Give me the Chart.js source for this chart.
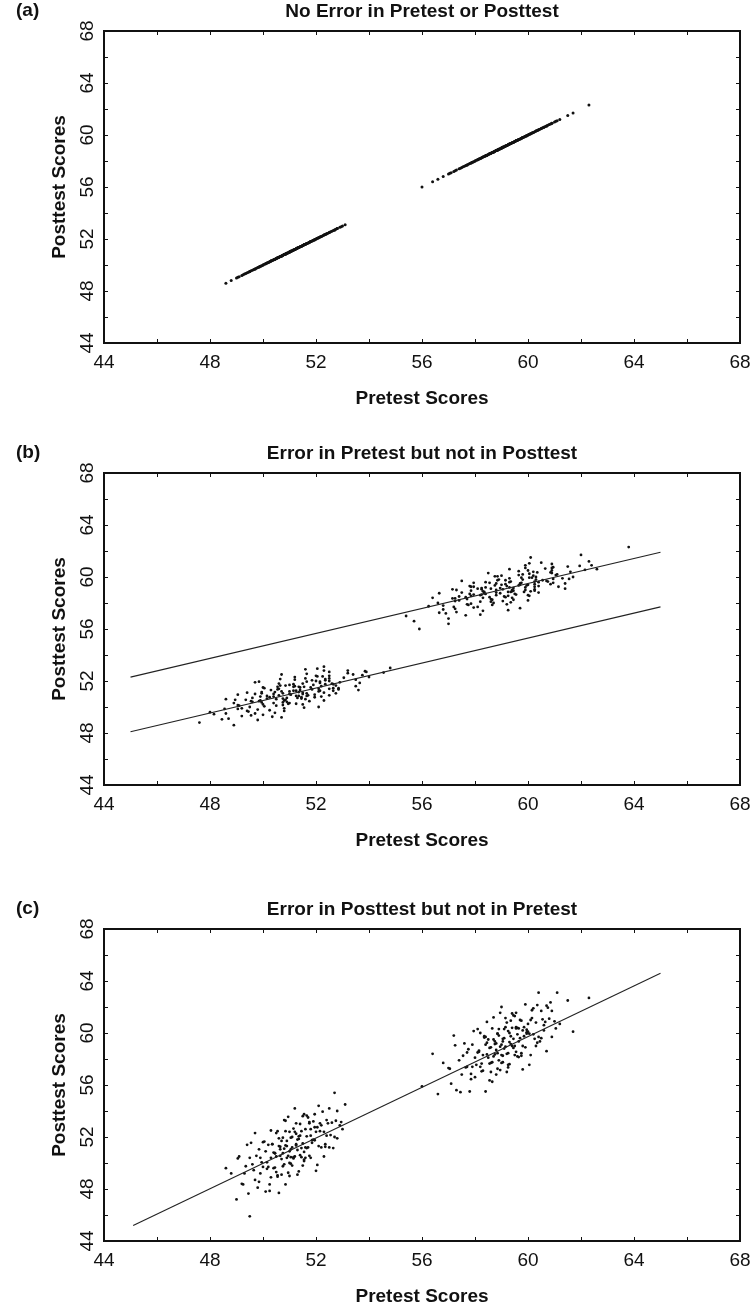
<!DOCTYPE html>
<html><head><meta charset="utf-8">
<script src="https://cdn.jsdelivr.net/npm/chart.js@4.4.1/dist/chart.umd.min.js"></script>
<style>
html,body{margin:0;padding:0;background:#fff;}
#wrap{position:relative;width:754px;height:1306px;overflow:hidden;background:#fff;}
canvas{position:absolute;left:0;}
</style></head><body>
<div id="wrap">
<canvas id="ca" width="754" height="442" style="top:0px"></canvas>
<canvas id="cb" width="754" height="442" style="top:442px"></canvas>
<canvas id="cc" width="754" height="408" style="top:898px"></canvas>
</div>
<script>
// ---------- DATA ----------
const panelLabels = ['(a)', '(b)', '(c)'];
const panelTitles = ['No Error in Pretest or Posttest', 'Error in Pretest but not in Posttest', 'Error in Posttest but not in Pretest'];
const xAxisTitle = 'Pretest Scores';
const yAxisTitle = 'Posttest Scores';
const axisTicks = [44, 48, 52, 56, 60, 64, 68];
const minorTicks = [44, 46, 48, 50, 52, 54, 56, 58, 60, 62, 64, 66, 68];

// true scores (no measurement error) - lower group
const trueScoresLow = [48.6,48.8,49.0,49.1,49.2,49.3,49.4,49.5,49.5,49.6,
49.7,49.7,49.8,49.9,49.9,50.0,50.0,50.1,50.1,50.2,
50.2,50.3,50.3,50.3,50.4,50.4,50.5,50.5,50.5,50.6,
50.6,50.6,50.7,50.7,50.7,50.8,50.8,50.8,50.9,50.9,
50.9,51.0,51.0,51.0,51.0,51.1,51.1,51.1,51.2,51.2,
51.2,51.3,51.3,51.3,51.4,51.4,51.4,51.5,51.5,51.5,
51.6,51.6,51.6,51.7,51.7,51.8,51.8,51.8,51.9,51.9,
52.0,52.0,52.1,52.1,52.2,52.2,52.3,52.3,52.4,52.4,
52.5,52.5,52.6,52.7,52.7,52.8,52.8,52.9,53.0,53.1,
49.05,49.25,49.35,49.45,49.55,49.65,49.75,49.85,49.95,50.05,
50.15,50.25,50.35,50.45,50.45,50.55,50.55,50.65,50.65,50.75,
50.75,50.85,50.85,50.95,50.95,51.05,51.05,51.05,51.15,51.15,
51.25,51.25,51.35,51.35,51.45,51.45,51.55,51.55,51.65,51.65,
51.75,51.75,51.85,51.95,52.05,52.15,52.25,52.35,52.45,52.55,
50.35,50.55,50.75,50.95,51.15,51.35,51.55,51.75,51.95,52.15,
50.25,50.65,50.85,51.05,51.25,51.45,51.65,51.85,52.05,52.65,
49.85,50.15,50.45,50.85,51.25,51.55,51.95,52.35,52.75,52.95];
// true scores - upper group
const trueScoresHigh = [56.0,56.4,56.6,56.8,57.0,57.1,57.2,57.3,57.4,57.5,
57.6,57.7,57.7,57.8,57.9,57.9,58.0,58.0,58.1,58.1,
58.2,58.2,58.3,58.3,58.4,58.4,58.4,58.5,58.5,58.6,
58.6,58.6,58.7,58.7,58.7,58.8,58.8,58.8,58.9,58.9,
58.9,59.0,59.0,59.0,59.0,59.1,59.1,59.1,59.2,59.2,
59.2,59.3,59.3,59.3,59.4,59.4,59.4,59.5,59.5,59.5,
59.6,59.6,59.6,59.7,59.7,59.8,59.8,59.8,59.9,59.9,
60.0,60.0,60.1,60.1,60.2,60.2,60.3,60.3,60.4,60.4,
60.5,60.5,60.6,60.6,60.7,60.7,60.8,60.9,60.9,61.0,
61.1,61.2,61.5,61.7,62.3,
57.05,57.25,57.45,57.55,57.65,57.75,57.85,57.95,58.05,58.15,
58.25,58.35,58.45,58.45,58.55,58.55,58.65,58.65,58.75,58.75,
58.85,58.85,58.95,58.95,59.05,59.05,59.05,59.15,59.15,59.25,
59.25,59.35,59.35,59.45,59.45,59.55,59.55,59.65,59.65,59.75,
59.75,59.85,59.95,60.05,60.15,60.25,60.35,60.45,60.55,60.65,
58.35,58.55,58.75,58.95,59.15,59.35,59.55,59.75,59.95,60.15,
58.25,58.65,58.85,59.05,59.25,59.45,59.65,59.85,60.05,60.75,
57.85,58.15,58.45,58.85,59.25,59.55,59.95,60.35,60.85,61.05];

// panel (b): pretest measured with error (posttest = true score)
const pretestErrLow = [48.9,47.6,49.8,48.7,50.7,49.2,50.0,48.6,49.7,48.0,
50.8,49.4,49.8,50.8,49.2,52.1,49.5,50.5,49.1,51.5,
50.0,51.0,48.9,50.4,50.9,49.6,52.3,49.9,50.8,48.6,
51.6,50.5,51.3,49.6,50.9,52.2,50.4,49.9,51.7,50.6,
52.5,49.7,51.0,51.5,50.4,52.3,49.4,51.5,51.0,52.1,
50.7,53.6,50.3,51.4,52.1,50.6,52.5,51.4,50.0,51.8,
52.2,51.2,53.5,51.0,51.9,50.6,52.6,51.5,52.9,49.7,
52.5,52.0,51.2,53.5,51.6,52.5,54.0,51.2,52.5,52.0,
53.4,50.7,53.2,52.5,53.9,52.3,53.2,51.6,54.8,52.3,
48.45,50.35,49.55,48.15,50.45,49.45,50.25,49.05,51.55,50.05,
49.05,50.95,49.95,51.75,49.55,50.85,48.95,51.45,50.75,50.25,
51.95,50.15,51.25,49.05,51.95,50.75,51.65,52.75,49.95,51.35,
51.15,52.15,50.55,51.85,50.05,52.85,51.35,51.55,52.75,50.65,
52.35,51.15,53.65,51.65,52.35,50.65,53.05,52.25,53.75,51.65,
50.75,49.35,51.45,51.05,50.45,52.85,51.15,52.65,49.85,52.35,
51.25,50.15,51.35,49.95,51.25,52.65,50.85,52.15,51.85,54.55,
48.55,50.75,49.85,51.65,52.65,50.55,52.15,52.05,53.85,52.05];
const pretestErrHigh = [55.9,57.0,55.7,57.0,55.4,58.2,56.9,57.3,58.3,56.8,
59.7,57.2,58.1,56.8,59.2,57.7,58.7,56.6,58.2,58.6,
57.4,60.0,57.7,58.6,56.4,59.4,58.3,59.1,57.4,58.8,
60.0,58.2,57.8,59.5,58.4,60.4,57.5,58.8,59.4,58.3,
60.1,57.3,59.4,58.8,59.9,58.6,61.4,58.1,59.3,59.9,
58.4,60.4,59.2,57.8,59.7,60.0,59.0,61.4,58.8,59.7,
58.4,60.4,59.3,60.7,57.5,60.3,59.8,58.9,61.3,59.3,
60.3,61.7,59.0,60.2,59.8,61.1,58.5,60.9,60.2,61.6,
60.0,60.9,59.3,62.6,59.9,60.9,61.5,59.9,62.4,60.9,
60.5,62.3,60.1,62.0,63.8,
57.65,56.65,59.25,57.25,57.95,56.25,58.65,57.85,59.35,57.25,
58.65,57.15,59.15,58.55,57.85,60.05,58.25,59.55,56.65,58.95,
59.85,58.35,59.45,57.85,59.05,60.25,58.25,59.45,58.95,61.15,
57.95,59.95,58.75,60.25,60.85,58.55,59.75,59.35,60.75,58.85,
59.15,60.95,60.15,58.75,61.05,60.05,60.85,59.65,62.15,60.65,
57.25,59.25,58.35,60.25,58.25,59.65,57.95,60.55,60.05,59.65,
59.45,57.95,59.25,57.15,60.25,59.15,60.25,61.55,58.85,60.95,
57.75,59.05,57.65,59.35,57.85,60.95,59.75,60.35,61.95,60.05];

// panel (c): posttest measured with error (pretest = true score)
const posttestErrLow = [49.6,49.2,47.2,50.5,48.4,49.2,51.4,45.9,50.4,49.9,
48.7,52.3,48.1,50.4,49.2,51.6,49.7,50.9,47.8,51.4,
49.7,50.4,48.9,52.5,50.8,49.6,52.3,49.3,50.5,51.3,
47.7,51.9,50.3,51.7,49.1,51.1,49.9,53.3,50.4,51.7,
51.3,49.0,50.9,52.4,50.0,52.0,51.2,49.8,54.2,50.5,
52.4,51.0,51.8,49.1,53.0,50.6,52.1,51.5,49.8,53.6,
51.2,52.6,50.4,51.2,53.5,52.1,50.4,52.6,51.8,53.2,
49.4,52.4,51.3,54.4,51.2,52.9,52.4,50.5,53.3,52.1,
54.2,51.2,53.1,52.0,55.4,51.9,54.0,52.9,52.6,54.5,
50.35,48.35,49.75,47.65,51.55,49.45,50.55,48.55,50.05,51.65,
49.55,47.85,51.45,50.75,49.65,52.45,49.05,51.25,50.55,51.95,
49.75,51.35,53.25,50.55,49.25,51.95,51.05,49.95,52.65,50.45,
51.45,53.05,49.35,52.05,51.15,52.45,50.15,53.75,51.15,52.05,
50.55,53.15,51.75,52.75,49.85,52.45,53.95,51.45,53.05,52.15,
51.45,48.95,50.75,53.55,50.35,51.85,50.25,53.05,51.75,53.05,
48.35,51.05,52.45,50.45,51.35,50.45,53.65,51.55,52.75,51.15,
51.05,50.05,50.75,48.35,52.25,50.85,53.75,51.25,53.25,53.15];
const posttestErrHigh = [55.9,58.4,55.3,57.7,57.3,56.1,59.8,55.6,57.9,56.8,
59.2,57.4,58.5,55.5,59.1,57.4,58.1,56.6,60.3,58.5,
57.4,60.0,57.1,58.3,59.1,55.5,59.7,58.1,59.5,57.0,
58.9,57.7,61.2,58.2,59.5,59.2,56.8,58.7,60.3,57.9,
59.8,59.1,57.7,62.0,58.3,60.3,58.8,59.6,57.0,60.8,
58.4,60.0,59.3,57.6,61.5,59.0,60.4,58.3,59.0,61.3,
59.9,58.2,60.4,59.6,61.0,57.2,60.2,59.0,62.2,58.9,
60.7,60.1,58.3,61.0,59.9,61.9,59.0,60.8,59.7,63.1,
59.6,61.7,60.6,60.2,62.1,58.6,61.1,59.7,61.7,60.9,
63.1,60.7,62.5,60.1,62.7,
57.25,59.05,55.45,58.25,57.35,58.75,56.45,60.15,57.55,58.55,
57.05,59.75,58.35,59.25,56.35,58.85,60.35,57.75,59.35,58.35,
59.95,57.25,58.95,61.55,58.25,59.55,57.75,60.45,58.95,60.15,
57.35,59.75,60.95,58.85,59.55,58.55,61.55,59.35,60.35,58.25,
60.95,59.75,60.25,57.55,61.15,59.55,62.15,59.35,61.05,60.85,
59.65,57.65,59.15,57.15,61.15,59.15,60.35,58.45,60.05,61.75,
57.65,56.25,59.95,59.35,58.45,61.35,58.15,60.45,59.95,61.95,
56.85,58.65,60.85,58.45,57.55,60.45,59.95,59.25,62.35,60.35];

// regression lines
const lineBLowerX = [45, 65];
const lineBLowerY = [48.1, 57.7];
const lineBUpperX = [45, 65];
const lineBUpperY = [52.3, 61.9];
const lineCX = [45.1, 65];
const lineCY = [45.2, 64.6];

// ---------- RENDER ----------
const FONT = "'Liberation Sans', Arial, Helvetica, sans-serif";
const FS = 19;
Chart.defaults.font.family = FONT;
Chart.defaults.color = '#111';

const pts = (xs, ys) => xs.map((v, i) => ({x: v, y: ys[i]}));

const framePlugin = {
  id: 'frame',
  afterDatasetsDraw(chart, args, opts) {
    const {ctx, chartArea: a, scales: {x, y}} = chart;
    ctx.save();
    ctx.strokeStyle = '#111';
    ctx.lineWidth = 1;
    ctx.beginPath();
    minorTicks.forEach(v => {
      const px = Math.round(x.getPixelForValue(v)) + 0.5;
      const py = Math.round(y.getPixelForValue(v)) + 0.5;
      const len = 4;
      ctx.moveTo(px, a.bottom); ctx.lineTo(px, a.bottom - len);
      ctx.moveTo(px, a.top); ctx.lineTo(px, a.top + len);
      ctx.moveTo(a.left, py); ctx.lineTo(a.left + len, py);
      ctx.moveTo(a.right, py); ctx.lineTo(a.right - len, py);
    });
    ctx.stroke();
    ctx.lineWidth = 2;
    ctx.strokeRect(a.left, a.top, a.right - a.left, a.bottom - a.top);
    ctx.fillStyle = '#111';
    ctx.font = 'bold ' + FS + 'px ' + FONT;
    ctx.textAlign = 'left';
    ctx.textBaseline = 'middle';
    ctx.fillText(opts.label, 16, 11);
    ctx.restore();
  }
};

function scatterSet(xs, ys, r) {
  return {type: 'scatter', data: pts(xs, ys), backgroundColor: '#111', borderWidth: 0, pointRadius: r, pointHoverRadius: r, showLine: false};
}
function lineSet(xs, ys) {
  return {type: 'scatter', data: pts(xs, ys), borderColor: '#222', borderWidth: 1.1, pointRadius: 0, showLine: true, fill: false};
}

function makeChart(id, idx, H, datasets) {
  const lh = FS * 1.2;
  return new Chart(document.getElementById(id), {
    type: 'scatter',
    data: {datasets},
    plugins: [framePlugin],
    options: {
      responsive: false,
      animation: false,
      events: [],
      layout: {padding: {left: 0, right: 14, top: 0, bottom: 0}},
      plugins: {
        legend: {display: false},
        tooltip: {enabled: false},
        title: {display: true, text: panelTitles[idx], fullSize: false, color: '#111',
                font: {size: FS, weight: 'bold'}, padding: {top: 0, bottom: 31 - lh}},
        frame: {label: panelLabels[idx]}
      },
      scales: {
        x: {
          type: 'linear', min: 44, max: 68,
          afterBuildTicks: s => { s.ticks = axisTicks.map(v => ({value: v})); },
          grid: {display: false, drawTicks: true, tickLength: 6},
          border: {display: false},
          ticks: {padding: 2.5, font: {size: FS}, color: '#111', autoSkip: false, maxRotation: 0},
          title: {display: true, text: xAxisTitle, color: '#111', font: {size: FS, weight: 'bold'},
                  padding: {top: 0, bottom: H - 399 - lh / 2}},
          afterFit: s => { s.height = H - 343; }
        },
        y: {
          type: 'linear', min: 44, max: 68,
          afterBuildTicks: s => { s.ticks = axisTicks.map(v => ({value: v})); },
          grid: {display: false, drawTicks: false},
          border: {display: false},
          ticks: {padding: 5.4, font: {size: FS}, color: '#111', autoSkip: false,
                  minRotation: 90, maxRotation: 90, crossAlign: 'center'},
          title: {display: true, text: yAxisTitle, color: '#111', font: {size: FS, weight: 'bold'},
                  padding: {top: 60 - lh / 2, bottom: 0}},
          afterFit: s => { s.width = 104; }
        }
      }
    }
  });
}

makeChart('ca', 0, 442, [
  scatterSet(trueScoresLow, trueScoresLow, 1.5),
  scatterSet(trueScoresHigh, trueScoresHigh, 1.5)
]);
makeChart('cb', 1, 442, [
  lineSet(lineBLowerX, lineBLowerY),
  lineSet(lineBUpperX, lineBUpperY),
  scatterSet(pretestErrLow, trueScoresLow, 1.4),
  scatterSet(pretestErrHigh, trueScoresHigh, 1.4)
]);
makeChart('cc', 2, 408, [
  lineSet(lineCX, lineCY),
  scatterSet(trueScoresLow, posttestErrLow, 1.4),
  scatterSet(trueScoresHigh, posttestErrHigh, 1.4)
]);
</script>
</body></html>
